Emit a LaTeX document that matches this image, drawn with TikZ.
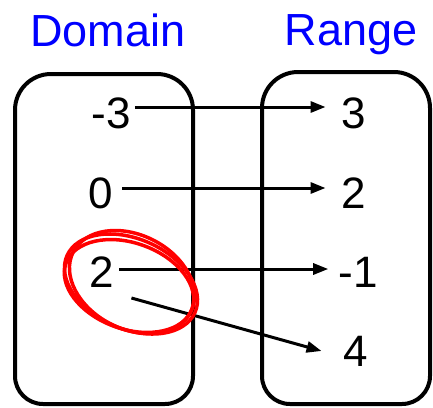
\documentclass[tikz,border=0pt]{standalone}
\usepackage{fontspec}
\setmainfont{Liberation Sans}
\usetikzlibrary{arrows.meta}
\begin{document}
\begin{tikzpicture}[x=1pt,y=-1pt,
  setbox/.style={line width=4pt},
  num/.style={font=\fontsize{44}{46}\selectfont,inner sep=0pt,anchor=center},
  title/.style={font=\fontsize{45}{47}\selectfont,text=blue,inner sep=0pt},
  maparrow/.style={line width=3pt,-{Triangle[length=15pt,width=11pt]}},
  ring/.style={draw=red,line width=3.5pt}]
\useasboundingbox (0,0) rectangle (433,407);
% the two sets
\draw[setbox] (15,200) [rounded corners=36pt] -- (15,74) -- (193,74) [rounded corners=28pt] -- (193,404) -- (15,404) -- cycle;
\draw[setbox] (262,200) [rounded corners=36pt] -- (262,72) -- (430,72) [rounded corners=28pt] -- (430,404) -- (262,404) -- cycle;
% headings
\node[title,anchor=base] (dom) at (108,46) {Domain};
\node[title,anchor=base] (ran) at (351,45) {Range};
% domain values
\node[num] (dm3) at (111,113) {-3};
\node[num] (d0) at (101,193) {0};
\node[num] (d2) at (102,272) {2};
% range values
\node[num] (r3) at (354,113) {3};
\node[num] (r2) at (354,193) {2};
\node[num] (rm1) at (358,272) {-1};
\node[num] (r4) at (356,351) {4};
% mapping arrows
\draw[maparrow] ([shift={(4,-6)}]dm3.east) -- ([shift={(-16,-6)}]r3.west);
\draw[maparrow] ([shift={(9,-5)}]d0.east) -- ([shift={(-16,-5)}]r2.west);
\draw[maparrow] ([shift={(5,-3)}]d2.east) -- ([shift={(-10,-3)}]rm1.west);
\draw[maparrow] ([shift={(17,26)}]d2.east) -- ([shift={(-22,0)}]r4.west);
% hand-drawn circle around 2
\draw[ring,rotate around={-24:(131,284)}] (131,284) ellipse (70pt and 45pt);
\draw[ring,rotate around={-20:(129,286)}] (129,286) ellipse (67pt and 43pt);
\draw[ring,rotate around={-27:(132,282)}] (132,282) ellipse (66pt and 47pt);
\end{tikzpicture}
\end{document}
